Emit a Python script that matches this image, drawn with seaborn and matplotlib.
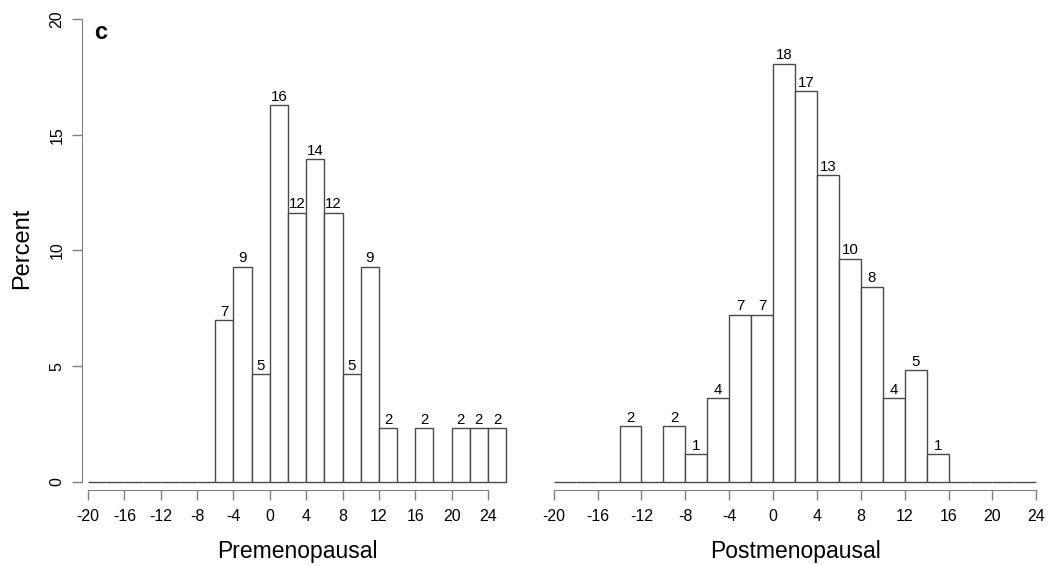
import numpy as np
import pandas as pd
import matplotlib
matplotlib.use('Agg')
import matplotlib.pyplot as plt
import seaborn as sns

# percent per 2-unit bin (lower edge of bin)
pre_lo = [-6, -4, -2, 0, 2, 4, 6, 8, 10, 12, 16, 20, 22, 24]
pre_pct = [6.98, 9.30, 4.65, 16.28, 11.63, 13.95, 11.63, 4.65, 9.30, 2.33, 2.33, 2.33, 2.33, 2.33]

post_lo = [-14, -10, -8, -6, -4, -2, 0, 2, 4, 6, 8, 10, 12, 14]
post_pct = [2.41, 2.41, 1.20, 3.61, 7.23, 7.23, 18.07, 16.87, 13.25, 9.64, 8.43, 3.61, 4.82, 1.20]

pre_bins = list(range(-20, 28, 2))
post_bins = list(range(-20, 26, 2))
xticks = list(range(-20, 28, 4))
yticks = [0, 5, 10, 15, 20]

sns.set_style('white')
plt.rcParams['font.family'] = ['Liberation Sans', 'DejaVu Sans']
plt.rcParams['text.color'] = 'black'
plt.rcParams['axes.labelcolor'] = 'black'
plt.rcParams['xtick.labelcolor'] = 'black'
plt.rcParams['ytick.labelcolor'] = 'black'

edge = '#4a4a4a'
axcol = '#808080'

fig = plt.figure(figsize=(10.51, 5.66), dpi=100)
W, H = 1051, 566
ax1 = fig.add_axes([82 / W, 1 - 490 / H, 430 / W, 482.6 / H])
ax2 = fig.add_axes([548 / W, 1 - 490 / H, 494 / W, 482.6 / H])


def panel(ax, lo, pct, bins, xlab, xlim):
    d = pd.DataFrame({'x': np.array(lo) + 1.0, 'pct': pct})
    sns.histplot(data=d, x='x', weights='pct', bins=bins, ax=ax, stat='count',
                 color='white', edgecolor=edge, linewidth=1, alpha=1)
    labels = [str(int(round(h))) if h > 0 else '' for h in
              [b.get_height() for b in ax.containers[0]]]
    ax.bar_label(ax.containers[0], labels=labels, padding=1, fontsize=10.8,
                 color='black')
    ax.set_xlim(*xlim)
    ax.set_ylim(-0.35, 20.5)
    ax.set_xticks(xticks)
    ax.set_xticklabels([str(t) for t in xticks], fontsize=11.5)
    ax.spines['top'].set_visible(False)
    ax.spines['right'].set_visible(False)
    ax.spines['bottom'].set_bounds(-20, 24)
    ax.spines['bottom'].set_color(axcol)
    ax.tick_params(axis='x', length=7.5, width=1, color=axcol, pad=6, bottom=True)
    ax.set_xlabel(xlab, fontsize=16.5, labelpad=12)
    ax.set_ylabel('')


panel(ax1, pre_lo, pre_pct, pre_bins, 'Premenopausal', (-20.66, 26.64))
panel(ax2, post_lo, post_pct, post_bins, 'Postmenopausal', (-20.52, 24.52))

ax1.spines['left'].set_bounds(0, 20)
ax1.spines['left'].set_color(axcol)
ax1.set_yticks(yticks)
ax1.set_yticklabels([str(t) for t in yticks], fontsize=11.5, rotation=90, va='center')
ax1.tick_params(axis='y', length=7.5, width=1, color=axcol, pad=5, left=True)
ax1.set_ylabel('Percent', fontsize=17, labelpad=12)
ax1.text(-19.3, 19.4, 'c', fontsize=17, fontweight='bold', va='center')

ax2.spines['left'].set_visible(False)
ax2.set_yticks([])

fig.savefig('out.png', dpi=100)
